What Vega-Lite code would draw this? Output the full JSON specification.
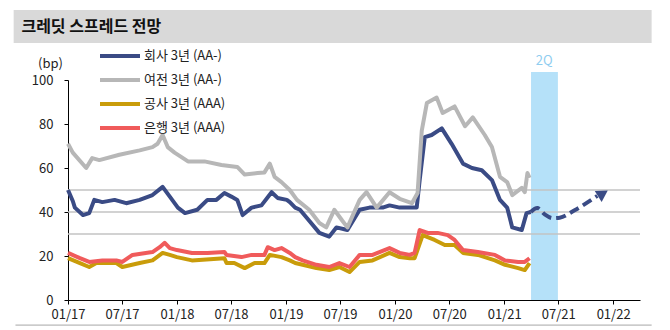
{
  "$schema": "https://vega.github.io/schema/vega-lite/v6.json",
  "width": 572,
  "height": 220,
  "autosize": {"type": "none"},
  "padding": {"left": 68, "top": 80, "right": 30, "bottom": 30},
  "background": "white",
  "config": {
    "view": {"stroke": null},
    "font": "Noto Sans CJK KR",
    "legend": {
      "orient": "none",
      "legendX": 45,
      "legendY": -31,
      "symbolType": "M-4,0H4",
      "symbolSize": 100,
      "symbolStrokeWidth": 4,
      "labelOffset": 17,
      "rowPadding": 8,
      "labelFontSize": 13,
      "labelFont": "Noto Sans CJK KR",
      "labelColor": "#222222",
      "padding": 0
    }
  },
  "datasets": {
    "series": [
      {"s": "회사 3년 (AA-)", "d": "2017-01-01", "v": 50},
      {"s": "회사 3년 (AA-)", "d": "2017-01-17", "v": 45},
      {"s": "회사 3년 (AA-)", "d": "2017-01-24", "v": 42},
      {"s": "회사 3년 (AA-)", "d": "2017-02-20", "v": 38.6},
      {"s": "회사 3년 (AA-)", "d": "2017-03-13", "v": 39.5},
      {"s": "회사 3년 (AA-)", "d": "2017-03-30", "v": 45.5},
      {"s": "회사 3년 (AA-)", "d": "2017-04-26", "v": 44.5},
      {"s": "회사 3년 (AA-)", "d": "2017-06-06", "v": 45.5},
      {"s": "회사 3년 (AA-)", "d": "2017-07-15", "v": 44},
      {"s": "회사 3년 (AA-)", "d": "2017-08-29", "v": 45.5},
      {"s": "회사 3년 (AA-)", "d": "2017-10-11", "v": 47.7},
      {"s": "회사 3년 (AA-)", "d": "2017-11-14", "v": 51.4},
      {"s": "회사 3년 (AA-)", "d": "2017-12-08", "v": 47},
      {"s": "회사 3년 (AA-)", "d": "2018-01-04", "v": 42},
      {"s": "회사 3년 (AA-)", "d": "2018-01-28", "v": 39.5},
      {"s": "회사 3년 (AA-)", "d": "2018-03-10", "v": 41},
      {"s": "회사 3년 (AA-)", "d": "2018-04-13", "v": 45.5},
      {"s": "회사 3년 (AA-)", "d": "2018-05-13", "v": 45.5},
      {"s": "회사 3년 (AA-)", "d": "2018-06-09", "v": 48.6},
      {"s": "회사 3년 (AA-)", "d": "2018-07-02", "v": 47},
      {"s": "회사 3년 (AA-)", "d": "2018-07-22", "v": 45.5},
      {"s": "회사 3년 (AA-)", "d": "2018-08-09", "v": 38.6},
      {"s": "회사 3년 (AA-)", "d": "2018-09-08", "v": 42},
      {"s": "회사 3년 (AA-)", "d": "2018-10-11", "v": 43},
      {"s": "회사 3년 (AA-)", "d": "2018-11-14", "v": 49},
      {"s": "회사 3년 (AA-)", "d": "2018-12-04", "v": 46.4},
      {"s": "회사 3년 (AA-)", "d": "2019-01-04", "v": 45.5},
      {"s": "회사 3년 (AA-)", "d": "2019-01-14", "v": 44.5},
      {"s": "회사 3년 (AA-)", "d": "2019-02-01", "v": 42},
      {"s": "회사 3년 (AA-)", "d": "2019-02-17", "v": 41},
      {"s": "회사 3년 (AA-)", "d": "2019-03-20", "v": 36},
      {"s": "회사 3년 (AA-)", "d": "2019-04-23", "v": 30.5},
      {"s": "회사 3년 (AA-)", "d": "2019-05-26", "v": 28.8},
      {"s": "회사 3년 (AA-)", "d": "2019-06-19", "v": 33},
      {"s": "회사 3년 (AA-)", "d": "2019-07-26", "v": 31.8},
      {"s": "회사 3년 (AA-)", "d": "2019-09-05", "v": 41},
      {"s": "회사 3년 (AA-)", "d": "2019-10-08", "v": 42},
      {"s": "회사 3년 (AA-)", "d": "2019-11-21", "v": 42},
      {"s": "회사 3년 (AA-)", "d": "2019-12-14", "v": 43},
      {"s": "회사 3년 (AA-)", "d": "2020-01-17", "v": 42},
      {"s": "회사 3년 (AA-)", "d": "2020-03-14", "v": 42},
      {"s": "회사 3년 (AA-)", "d": "2020-03-24", "v": 54.5},
      {"s": "회사 3년 (AA-)", "d": "2020-04-10", "v": 74},
      {"s": "회사 3년 (AA-)", "d": "2020-05-03", "v": 75},
      {"s": "회사 3년 (AA-)", "d": "2020-06-06", "v": 78},
      {"s": "회사 3년 (AA-)", "d": "2020-07-09", "v": 71},
      {"s": "회사 3년 (AA-)", "d": "2020-08-16", "v": 62},
      {"s": "회사 3년 (AA-)", "d": "2020-09-15", "v": 60},
      {"s": "회사 3년 (AA-)", "d": "2020-10-18", "v": 59},
      {"s": "회사 3년 (AA-)", "d": "2020-11-21", "v": 54.5},
      {"s": "회사 3년 (AA-)", "d": "2020-12-18", "v": 45.5},
      {"s": "회사 3년 (AA-)", "d": "2021-01-11", "v": 42},
      {"s": "회사 3년 (AA-)", "d": "2021-01-28", "v": 33},
      {"s": "회사 3년 (AA-)", "d": "2021-03-01", "v": 31.8},
      {"s": "회사 3년 (AA-)", "d": "2021-03-17", "v": 39.5},
      {"s": "회사 3년 (AA-)", "d": "2021-03-31", "v": 40},
      {"s": "여전 3년 (AA-)", "d": "2017-01-01", "v": 71},
      {"s": "여전 3년 (AA-)", "d": "2017-01-17", "v": 67},
      {"s": "여전 3년 (AA-)", "d": "2017-03-03", "v": 60},
      {"s": "여전 3년 (AA-)", "d": "2017-03-23", "v": 64.5},
      {"s": "여전 3년 (AA-)", "d": "2017-04-16", "v": 63.6},
      {"s": "여전 3년 (AA-)", "d": "2017-06-22", "v": 66},
      {"s": "여전 3년 (AA-)", "d": "2017-08-29", "v": 68},
      {"s": "여전 3년 (AA-)", "d": "2017-10-11", "v": 69.5},
      {"s": "여전 3년 (AA-)", "d": "2017-10-28", "v": 71},
      {"s": "여전 3년 (AA-)", "d": "2017-11-14", "v": 75},
      {"s": "여전 3년 (AA-)", "d": "2017-12-01", "v": 69.5},
      {"s": "여전 3년 (AA-)", "d": "2017-12-24", "v": 67},
      {"s": "여전 3년 (AA-)", "d": "2018-02-07", "v": 63},
      {"s": "여전 3년 (AA-)", "d": "2018-04-03", "v": 63},
      {"s": "여전 3년 (AA-)", "d": "2018-05-30", "v": 61.4},
      {"s": "여전 3년 (AA-)", "d": "2018-07-22", "v": 60.5},
      {"s": "여전 3년 (AA-)", "d": "2018-08-16", "v": 57},
      {"s": "여전 3년 (AA-)", "d": "2018-09-28", "v": 57.7},
      {"s": "여전 3년 (AA-)", "d": "2018-10-21", "v": 58},
      {"s": "여전 3년 (AA-)", "d": "2018-11-08", "v": 62},
      {"s": "여전 3년 (AA-)", "d": "2018-11-24", "v": 56},
      {"s": "여전 3년 (AA-)", "d": "2018-12-17", "v": 53.6},
      {"s": "여전 3년 (AA-)", "d": "2019-01-14", "v": 50},
      {"s": "여전 3년 (AA-)", "d": "2019-02-07", "v": 45.5},
      {"s": "여전 3년 (AA-)", "d": "2019-03-20", "v": 41},
      {"s": "여전 3년 (AA-)", "d": "2019-04-23", "v": 35},
      {"s": "여전 3년 (AA-)", "d": "2019-05-16", "v": 33},
      {"s": "여전 3년 (AA-)", "d": "2019-06-12", "v": 41},
      {"s": "여전 3년 (AA-)", "d": "2019-07-09", "v": 36},
      {"s": "여전 3년 (AA-)", "d": "2019-07-26", "v": 33},
      {"s": "여전 3년 (AA-)", "d": "2019-09-05", "v": 45.5},
      {"s": "여전 3년 (AA-)", "d": "2019-09-28", "v": 49},
      {"s": "여전 3년 (AA-)", "d": "2019-11-01", "v": 42},
      {"s": "여전 3년 (AA-)", "d": "2019-12-14", "v": 49},
      {"s": "여전 3년 (AA-)", "d": "2020-01-17", "v": 46},
      {"s": "여전 3년 (AA-)", "d": "2020-02-27", "v": 44},
      {"s": "여전 3년 (AA-)", "d": "2020-03-17", "v": 48.6},
      {"s": "여전 3년 (AA-)", "d": "2020-03-31", "v": 77},
      {"s": "여전 3년 (AA-)", "d": "2020-04-17", "v": 89.5},
      {"s": "여전 3년 (AA-)", "d": "2020-05-20", "v": 92},
      {"s": "여전 3년 (AA-)", "d": "2020-06-09", "v": 85},
      {"s": "여전 3년 (AA-)", "d": "2020-07-19", "v": 88},
      {"s": "여전 3년 (AA-)", "d": "2020-08-23", "v": 79},
      {"s": "여전 3년 (AA-)", "d": "2020-09-18", "v": 83},
      {"s": "여전 3년 (AA-)", "d": "2020-10-28", "v": 75},
      {"s": "여전 3년 (AA-)", "d": "2020-11-21", "v": 69.5},
      {"s": "여전 3년 (AA-)", "d": "2020-12-18", "v": 56},
      {"s": "여전 3년 (AA-)", "d": "2021-01-11", "v": 53.6},
      {"s": "여전 3년 (AA-)", "d": "2021-01-28", "v": 47.7},
      {"s": "여전 3년 (AA-)", "d": "2021-03-01", "v": 51},
      {"s": "여전 3년 (AA-)", "d": "2021-03-11", "v": 49},
      {"s": "여전 3년 (AA-)", "d": "2021-03-20", "v": 57.7},
      {"s": "여전 3년 (AA-)", "d": "2021-03-27", "v": 55.5},
      {"s": "공사 3년 (AAA)", "d": "2017-01-01", "v": 19},
      {"s": "공사 3년 (AAA)", "d": "2017-02-10", "v": 16.8},
      {"s": "공사 3년 (AAA)", "d": "2017-03-13", "v": 15},
      {"s": "공사 3년 (AAA)", "d": "2017-04-06", "v": 16.8},
      {"s": "공사 3년 (AAA)", "d": "2017-06-12", "v": 16.8},
      {"s": "공사 3년 (AAA)", "d": "2017-07-02", "v": 15},
      {"s": "공사 3년 (AAA)", "d": "2017-08-29", "v": 16.8},
      {"s": "공사 3년 (AAA)", "d": "2017-10-11", "v": 18},
      {"s": "공사 3년 (AAA)", "d": "2017-11-14", "v": 21.4},
      {"s": "공사 3년 (AAA)", "d": "2017-12-08", "v": 20.5},
      {"s": "공사 3년 (AAA)", "d": "2018-01-01", "v": 19.5},
      {"s": "공사 3년 (AAA)", "d": "2018-02-20", "v": 18},
      {"s": "공사 3년 (AAA)", "d": "2018-06-09", "v": 19},
      {"s": "공사 3년 (AAA)", "d": "2018-06-16", "v": 16.8},
      {"s": "공사 3년 (AAA)", "d": "2018-07-12", "v": 16.8},
      {"s": "공사 3년 (AAA)", "d": "2018-08-16", "v": 14.5},
      {"s": "공사 3년 (AAA)", "d": "2018-09-18", "v": 16.8},
      {"s": "공사 3년 (AAA)", "d": "2018-10-21", "v": 16.8},
      {"s": "공사 3년 (AAA)", "d": "2018-11-08", "v": 20.5},
      {"s": "공사 3년 (AAA)", "d": "2018-12-17", "v": 19.5},
      {"s": "공사 3년 (AAA)", "d": "2019-01-14", "v": 18},
      {"s": "공사 3년 (AAA)", "d": "2019-02-01", "v": 16.8},
      {"s": "공사 3년 (AAA)", "d": "2019-02-26", "v": 16},
      {"s": "공사 3년 (AAA)", "d": "2019-04-13", "v": 14.5},
      {"s": "공사 3년 (AAA)", "d": "2019-05-26", "v": 13.6},
      {"s": "공사 3년 (AAA)", "d": "2019-06-29", "v": 15},
      {"s": "공사 3년 (AAA)", "d": "2019-08-02", "v": 12.7},
      {"s": "공사 3년 (AAA)", "d": "2019-09-05", "v": 17.3},
      {"s": "공사 3년 (AAA)", "d": "2019-10-18", "v": 18},
      {"s": "공사 3년 (AAA)", "d": "2019-12-14", "v": 21.4},
      {"s": "공사 3년 (AAA)", "d": "2020-01-17", "v": 19.5},
      {"s": "공사 3년 (AAA)", "d": "2020-02-20", "v": 19},
      {"s": "공사 3년 (AAA)", "d": "2020-03-07", "v": 19},
      {"s": "공사 3년 (AAA)", "d": "2020-04-03", "v": 29.5},
      {"s": "공사 3년 (AAA)", "d": "2020-05-13", "v": 27.3},
      {"s": "공사 3년 (AAA)", "d": "2020-06-16", "v": 25},
      {"s": "공사 3년 (AAA)", "d": "2020-07-19", "v": 25},
      {"s": "공사 3년 (AAA)", "d": "2020-08-16", "v": 21.4},
      {"s": "공사 3년 (AAA)", "d": "2020-10-05", "v": 20.5},
      {"s": "공사 3년 (AAA)", "d": "2020-12-01", "v": 18},
      {"s": "공사 3년 (AAA)", "d": "2021-01-04", "v": 16},
      {"s": "공사 3년 (AAA)", "d": "2021-02-17", "v": 14.5},
      {"s": "공사 3년 (AAA)", "d": "2021-03-11", "v": 13.6},
      {"s": "공사 3년 (AAA)", "d": "2021-03-27", "v": 16.8},
      {"s": "은행 3년 (AAA)", "d": "2017-01-01", "v": 21.4},
      {"s": "은행 3년 (AAA)", "d": "2017-02-10", "v": 19},
      {"s": "은행 3년 (AAA)", "d": "2017-03-13", "v": 17.3},
      {"s": "은행 3년 (AAA)", "d": "2017-04-26", "v": 18},
      {"s": "은행 3년 (AAA)", "d": "2017-06-12", "v": 18},
      {"s": "은행 3년 (AAA)", "d": "2017-07-02", "v": 17.3},
      {"s": "은행 3년 (AAA)", "d": "2017-08-05", "v": 20.5},
      {"s": "은행 3년 (AAA)", "d": "2017-10-11", "v": 21.8},
      {"s": "은행 3년 (AAA)", "d": "2017-11-04", "v": 24},
      {"s": "은행 3년 (AAA)", "d": "2017-11-21", "v": 26},
      {"s": "은행 3년 (AAA)", "d": "2017-12-08", "v": 23.6},
      {"s": "은행 3년 (AAA)", "d": "2018-01-01", "v": 22.7},
      {"s": "은행 3년 (AAA)", "d": "2018-02-20", "v": 21.4},
      {"s": "은행 3년 (AAA)", "d": "2018-04-13", "v": 21.4},
      {"s": "은행 3년 (AAA)", "d": "2018-06-09", "v": 21.8},
      {"s": "은행 3년 (AAA)", "d": "2018-06-16", "v": 20.5},
      {"s": "은행 3년 (AAA)", "d": "2018-08-05", "v": 19.5},
      {"s": "은행 3년 (AAA)", "d": "2018-09-08", "v": 20.5},
      {"s": "은행 3년 (AAA)", "d": "2018-10-21", "v": 20.5},
      {"s": "은행 3년 (AAA)", "d": "2018-11-01", "v": 24},
      {"s": "은행 3년 (AAA)", "d": "2018-11-24", "v": 22.7},
      {"s": "은행 3년 (AAA)", "d": "2018-12-17", "v": 23.6},
      {"s": "은행 3년 (AAA)", "d": "2019-01-14", "v": 21.4},
      {"s": "은행 3년 (AAA)", "d": "2019-02-01", "v": 19.5},
      {"s": "은행 3년 (AAA)", "d": "2019-02-26", "v": 18},
      {"s": "은행 3년 (AAA)", "d": "2019-04-13", "v": 16},
      {"s": "은행 3년 (AAA)", "d": "2019-05-26", "v": 15},
      {"s": "은행 3년 (AAA)", "d": "2019-06-29", "v": 16.8},
      {"s": "은행 3년 (AAA)", "d": "2019-08-02", "v": 15},
      {"s": "은행 3년 (AAA)", "d": "2019-09-05", "v": 20.5},
      {"s": "은행 3년 (AAA)", "d": "2019-10-18", "v": 20.5},
      {"s": "은행 3년 (AAA)", "d": "2019-12-14", "v": 23.6},
      {"s": "은행 3년 (AAA)", "d": "2020-01-17", "v": 21.4},
      {"s": "은행 3년 (AAA)", "d": "2020-02-20", "v": 20.5},
      {"s": "은행 3년 (AAA)", "d": "2020-03-07", "v": 21.4},
      {"s": "은행 3년 (AAA)", "d": "2020-03-24", "v": 31.8},
      {"s": "은행 3년 (AAA)", "d": "2020-04-20", "v": 30.5},
      {"s": "은행 3년 (AAA)", "d": "2020-05-23", "v": 30.5},
      {"s": "은행 3년 (AAA)", "d": "2020-06-26", "v": 29.5},
      {"s": "은행 3년 (AAA)", "d": "2020-07-19", "v": 27.3},
      {"s": "은행 3년 (AAA)", "d": "2020-08-16", "v": 22.7},
      {"s": "은행 3년 (AAA)", "d": "2020-10-05", "v": 21.8},
      {"s": "은행 3년 (AAA)", "d": "2020-12-01", "v": 20.5},
      {"s": "은행 3년 (AAA)", "d": "2021-01-04", "v": 18},
      {"s": "은행 3년 (AAA)", "d": "2021-02-17", "v": 17.3},
      {"s": "은행 3년 (AAA)", "d": "2021-03-11", "v": 17.3},
      {"s": "은행 3년 (AAA)", "d": "2021-03-27", "v": 19}
    ],
    "forecast": [
      {"d": "2021-03-31", "v": 40},
      {"d": "2021-04-22", "v": 41.8},
      {"d": "2021-05-16", "v": 39},
      {"d": "2021-06-13", "v": 37.2},
      {"d": "2021-07-06", "v": 37.4},
      {"d": "2021-08-25", "v": 40.8},
      {"d": "2021-11-09", "v": 47.3}
    ],
    "arrow": [{"d": "2021-11-28", "v": 48.4}],
    "band": [{"d": "2021-04-01", "d2": "2021-06-30", "v": 0, "v2": 103.6, "label": "2Q", "lx": "2021-05-15", "ly": 108.6}],
    "refs": [{"v": 30}, {"v": 40}, {"v": 50}],
    "frame": [{"title": "크레딧 스프레드 전망"}]
  },
  "layer": [
    {
      "data": {"name": "frame"},
      "mark": {"type": "rect", "color": "#d9d9d9", "clip": false},
      "encoding": {
        "x": {"datum": {"year": 2016, "month": 7, "date": 3, "utc": true}, "type": "temporal"},
        "x2": {"datum": {"year": 2022, "month": 5, "date": 10, "utc": true}},
        "y": {"datum": 116.8, "type": "quantitative"},
        "y2": {"datum": 131.8}
      }
    },
    {
      "data": {"name": "frame"},
      "mark": {"type": "text", "align": "left", "baseline": "middle", "fontSize": 16, "fontWeight": "bold", "color": "#111111", "font": "Noto Sans CJK KR"},
      "encoding": {
        "x": {"datum": {"year": 2016, "month": 7, "date": 29, "utc": true}, "type": "temporal"},
        "y": {"datum": 124.3, "type": "quantitative"},
        "text": {"field": "title"}
      }
    },
    {
      "data": {"name": "frame"},
      "mark": {"type": "rule", "color": "#a6a6a6", "strokeWidth": 1},
      "encoding": {
        "x": {"datum": {"year": 2016, "month": 7, "date": 9, "utc": true}, "type": "temporal"},
        "x2": {"datum": {"year": 2022, "month": 5, "date": 10, "utc": true}},
        "y": {"datum": -11.4, "type": "quantitative"}
      }
    },
    {
      "data": {"name": "band"},
      "mark": {"type": "rect", "color": "#b5e1f9"},
      "encoding": {
        "x": {"field": "d", "type": "temporal"},
        "x2": {"field": "d2"},
        "y": {"field": "v", "type": "quantitative"},
        "y2": {"field": "v2"}
      }
    },
    {
      "data": {"name": "band"},
      "mark": {"type": "text", "align": "center", "baseline": "middle", "fontSize": 13, "color": "#8fcdf0", "font": "Noto Sans CJK KR"},
      "encoding": {
        "x": {"field": "lx", "type": "temporal"},
        "y": {"field": "ly", "type": "quantitative"},
        "text": {"field": "label"}
      }
    },
    {
      "data": {"name": "refs"},
      "mark": {"type": "rule", "color": "#c3c3c3", "strokeWidth": 1.5},
      "encoding": {
        "y": {"field": "v", "type": "quantitative"}
      }
    },
    {
      "data": {"name": "series"},
      "mark": {"type": "line", "strokeWidth": 4, "strokeJoin": "round"},
      "encoding": {
        "x": {
          "field": "d",
          "type": "temporal",
          "scale": {"type": "utc", "domain": [{"year": 2017, "month": 1, "date": 1, "utc": true}, {"year": 2022, "month": 4, "date": 1, "utc": true}]},
          "axis": {
            "title": null,
            "format": "%m/%y",
            "values": [
              {"year": 2017, "month": 1, "date": 1, "utc": true},
              {"year": 2017, "month": 7, "date": 1, "utc": true},
              {"year": 2018, "month": 1, "date": 1, "utc": true},
              {"year": 2018, "month": 7, "date": 1, "utc": true},
              {"year": 2019, "month": 1, "date": 1, "utc": true},
              {"year": 2019, "month": 7, "date": 1, "utc": true},
              {"year": 2020, "month": 1, "date": 1, "utc": true},
              {"year": 2020, "month": 7, "date": 1, "utc": true},
              {"year": 2021, "month": 1, "date": 1, "utc": true},
              {"year": 2021, "month": 7, "date": 1, "utc": true},
              {"year": 2022, "month": 1, "date": 1, "utc": true}
            ],
            "grid": false,
            "domainColor": "#000000",
            "domainWidth": 1,
            "tickColor": "#000000",
            "tickSize": 4,
            "labelFontSize": 13,
            "labelColor": "#222222",
            "labelPadding": 4,
            "labelFlush": false,
            "labelOverlap": false
          }
        },
        "y": {
          "field": "v",
          "type": "quantitative",
          "scale": {"domain": [0, 100], "nice": false, "zero": false},
          "axis": {
            "title": "(bp)",
            "titleAngle": 0,
            "titleX": -18,
            "titleY": -17,
            "titleAlign": "center",
            "titleBaseline": "middle",
            "titleFontSize": 13,
            "titleFontWeight": "normal",
            "titleColor": "#222222",
            "values": [0, 20, 40, 60, 80, 100],
            "grid": false,
            "domainColor": "#000000",
            "tickColor": "#000000",
            "tickSize": 4,
            "labelFontSize": 13,
            "labelColor": "#222222",
            "labelPadding": 11
          }
        },
        "color": {
          "field": "s",
          "type": "nominal",
          "title": null,
          "scale": {
            "domain": ["회사 3년 (AA-)", "여전 3년 (AA-)", "공사 3년 (AAA)", "은행 3년 (AAA)"],
            "range": ["#3a4b85", "#b7b7b7", "#c99c0a", "#f05b5b"]
          }
        }
      }
    },
    {
      "data": {"name": "forecast"},
      "mark": {"type": "line", "strokeWidth": 4, "color": "#3a4b85", "strokeDash": [10, 5], "interpolate": "monotone"},
      "encoding": {
        "x": {"field": "d", "type": "temporal"},
        "y": {"field": "v", "type": "quantitative"}
      }
    },
    {
      "data": {"name": "arrow"},
      "mark": {"type": "point", "shape": "triangle-right", "filled": true, "size": 170, "angle": -32, "color": "#3a4b85", "opacity": 1},
      "encoding": {
        "x": {"field": "d", "type": "temporal"},
        "y": {"field": "v", "type": "quantitative"}
      }
    }
  ]
}
